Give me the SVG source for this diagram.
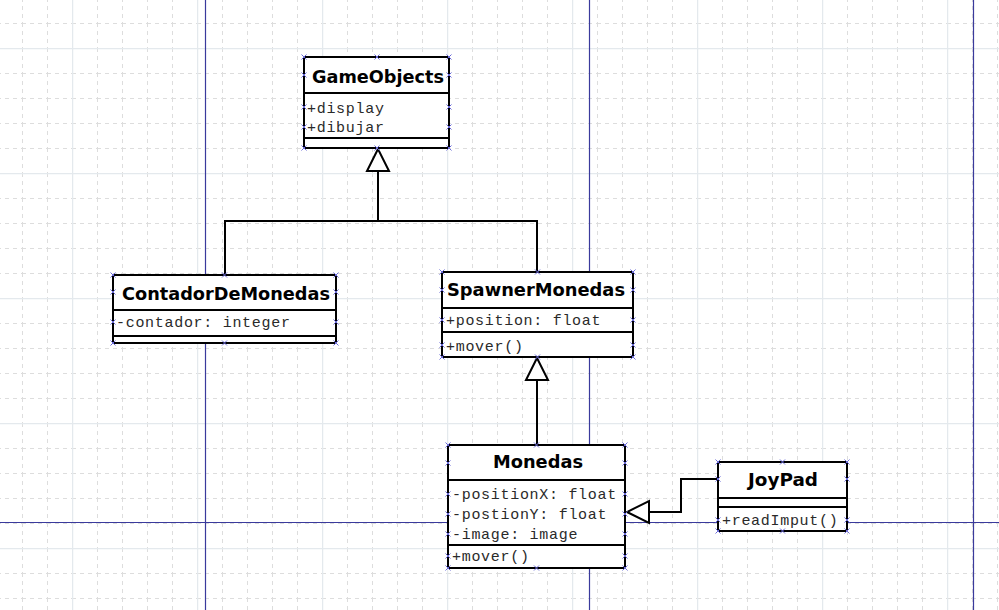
<svg xmlns="http://www.w3.org/2000/svg" xmlns:xlink="http://www.w3.org/1999/xlink" width="999" height="610" viewBox="0 0 999 610">
<style>
.box{fill:#fff;stroke:#000;stroke-width:2}
.div{stroke:#000;stroke-width:2;fill:none}
.hdr{font-family:"DejaVu Sans","Liberation Sans",sans-serif;font-weight:bold;font-size:18.5px;fill:#000}
.mem{font-family:"Liberation Mono","DejaVu Sans Mono",monospace;font-size:15px;letter-spacing:0.7px;fill:#2a2a2a}
.con{fill:none;stroke:#000;stroke-width:2}
.page{stroke:#3a3a9c;stroke-width:1.2}
.cp{stroke:#6a6ad8;stroke-width:1;fill:none}
</style>
<defs>
<pattern id="minor" x="22" y="23" width="25" height="25" patternUnits="userSpaceOnUse">
<path d="M0.5 0V25M0 0.5H25" stroke="#dddddd" stroke-width="1" stroke-dasharray="4 4" fill="none"/>
</pattern>
<pattern id="major" x="72" y="48" width="125" height="125" patternUnits="userSpaceOnUse">
<path d="M0.5 0V125M0 0.5H125" stroke="#e4e9ed" stroke-width="1.5" fill="none"/>
</pattern>
<marker id="gen" viewBox="-24 -13 26 26" refX="0" refY="0" markerWidth="26" markerHeight="26" markerUnits="userSpaceOnUse" orient="auto">
<path d="M0 0L-22 -11L-22 11Z" fill="#fff" stroke="#000" stroke-width="2" stroke-linejoin="miter"/>
</marker>
<path id="x" class="cp" d="M-2.5 -2.5L2.5 2.5M-2.5 2.5L2.5 -2.5"/>
</defs>

<g id="background">
<rect width="999" height="610" fill="#fff"/>
<rect width="999" height="610" fill="url(#minor)"/>
<rect width="999" height="610" fill="url(#major)"/>
<path class="page" d="M205.5 0V610M589.5 0V610M973.5 0V610M0 522.5H999"/>
</g>

<g id="connectors">
<path class="con" d="M225 275V221H378V149" marker-end="url(#gen)"/>
<path class="con" d="M537 272V221H378"/>
<path class="con" d="M537 445V358" marker-end="url(#gen)"/>
<path class="con" d="M718 479H681V512H627" marker-end="url(#gen)"/>
</g>

<g id="GameObjects">
<rect class="box" x="304" y="57" width="145" height="91"/>
<path class="div" d="M304 93H449M304 138H449"/>
<text class="hdr" x="312" y="83" textLength="132" lengthAdjust="spacingAndGlyphs">GameObjects</text>
<text class="mem" x="307" y="113">+display</text>
<text class="mem" x="307" y="132">+dibujar</text>
<use href="#x" x="304" y="57"/><use href="#x" x="377" y="57"/><use href="#x" x="449" y="57"/>
<use href="#x" x="304" y="75"/><use href="#x" x="449" y="75"/>
<use href="#x" x="304" y="107"/><use href="#x" x="449" y="107"/>
<use href="#x" x="304" y="127"/><use href="#x" x="449" y="127"/>
<use href="#x" x="304" y="148"/><use href="#x" x="377" y="148"/><use href="#x" x="449" y="148"/>
</g>

<g id="ContadorDeMonedas">
<rect class="box" x="113" y="275" width="223" height="68"/>
<path class="div" d="M113 310H336M113 336H336"/>
<text class="hdr" x="122" y="300" textLength="208" lengthAdjust="spacingAndGlyphs">ContadorDeMonedas</text>
<text class="mem" x="116" y="327">-contador: integer</text>
<use href="#x" x="113" y="275"/><use href="#x" x="224.5" y="275"/><use href="#x" x="336" y="275"/>
<use href="#x" x="113" y="292"/><use href="#x" x="336" y="292"/>
<use href="#x" x="113" y="322"/><use href="#x" x="336" y="322"/>
<use href="#x" x="113" y="343"/><use href="#x" x="224.5" y="343"/><use href="#x" x="336" y="343"/>
</g>

<g id="SpawnerMonedas">
<rect class="box" x="442" y="272" width="191" height="85"/>
<path class="div" d="M442 308H633M442 332H633"/>
<text class="hdr" x="447" y="296" textLength="178" lengthAdjust="spacingAndGlyphs">SpawnerMonedas</text>
<text class="mem" x="446" y="325">+position: float</text>
<text class="mem" x="446" y="351">+mover()</text>
<use href="#x" x="442" y="272"/><use href="#x" x="537.5" y="272"/><use href="#x" x="633" y="272"/>
<use href="#x" x="442" y="290"/><use href="#x" x="633" y="290"/>
<use href="#x" x="442" y="320"/><use href="#x" x="633" y="320"/>
<use href="#x" x="442" y="345"/><use href="#x" x="633" y="345"/>
<use href="#x" x="442" y="357"/><use href="#x" x="537.5" y="357"/><use href="#x" x="633" y="357"/>
</g>

<g id="Monedas">
<rect class="box" x="448" y="445" width="177" height="123"/>
<path class="div" d="M448 480H625M448 545H625"/>
<text class="hdr" x="493" y="468" textLength="90" lengthAdjust="spacingAndGlyphs">Monedas</text>
<text class="mem" x="452" y="499">-positionX: float</text>
<text class="mem" x="452" y="519">-postionY: float</text>
<text class="mem" x="452" y="539">-image: image</text>
<text class="mem" x="452" y="561">+mover()</text>
<use href="#x" x="448" y="445"/><use href="#x" x="536.5" y="445"/><use href="#x" x="625" y="445"/>
<use href="#x" x="448" y="463"/><use href="#x" x="625" y="463"/>
<use href="#x" x="448" y="494"/><use href="#x" x="625" y="494"/>
<use href="#x" x="448" y="514"/><use href="#x" x="625" y="514"/>
<use href="#x" x="448" y="534"/><use href="#x" x="625" y="534"/>
<use href="#x" x="448" y="556"/><use href="#x" x="625" y="556"/>
<use href="#x" x="448" y="568"/><use href="#x" x="536.5" y="568"/><use href="#x" x="625" y="568"/>
</g>

<g id="JoyPad">
<rect class="box" x="718" y="462" width="129" height="69"/>
<path class="div" d="M718 498H847M718 507H847"/>
<text class="hdr" x="748" y="486" textLength="70" lengthAdjust="spacingAndGlyphs">JoyPad</text>
<text class="mem" x="722" y="525">+readImput()</text>
<use href="#x" x="718" y="462"/><use href="#x" x="782.5" y="462"/><use href="#x" x="847" y="462"/>
<use href="#x" x="718" y="479"/><use href="#x" x="847" y="479"/>
<use href="#x" x="718" y="520"/><use href="#x" x="847" y="520"/>
<use href="#x" x="718" y="531"/><use href="#x" x="782.5" y="531"/><use href="#x" x="847" y="531"/>
</g>
</svg>
